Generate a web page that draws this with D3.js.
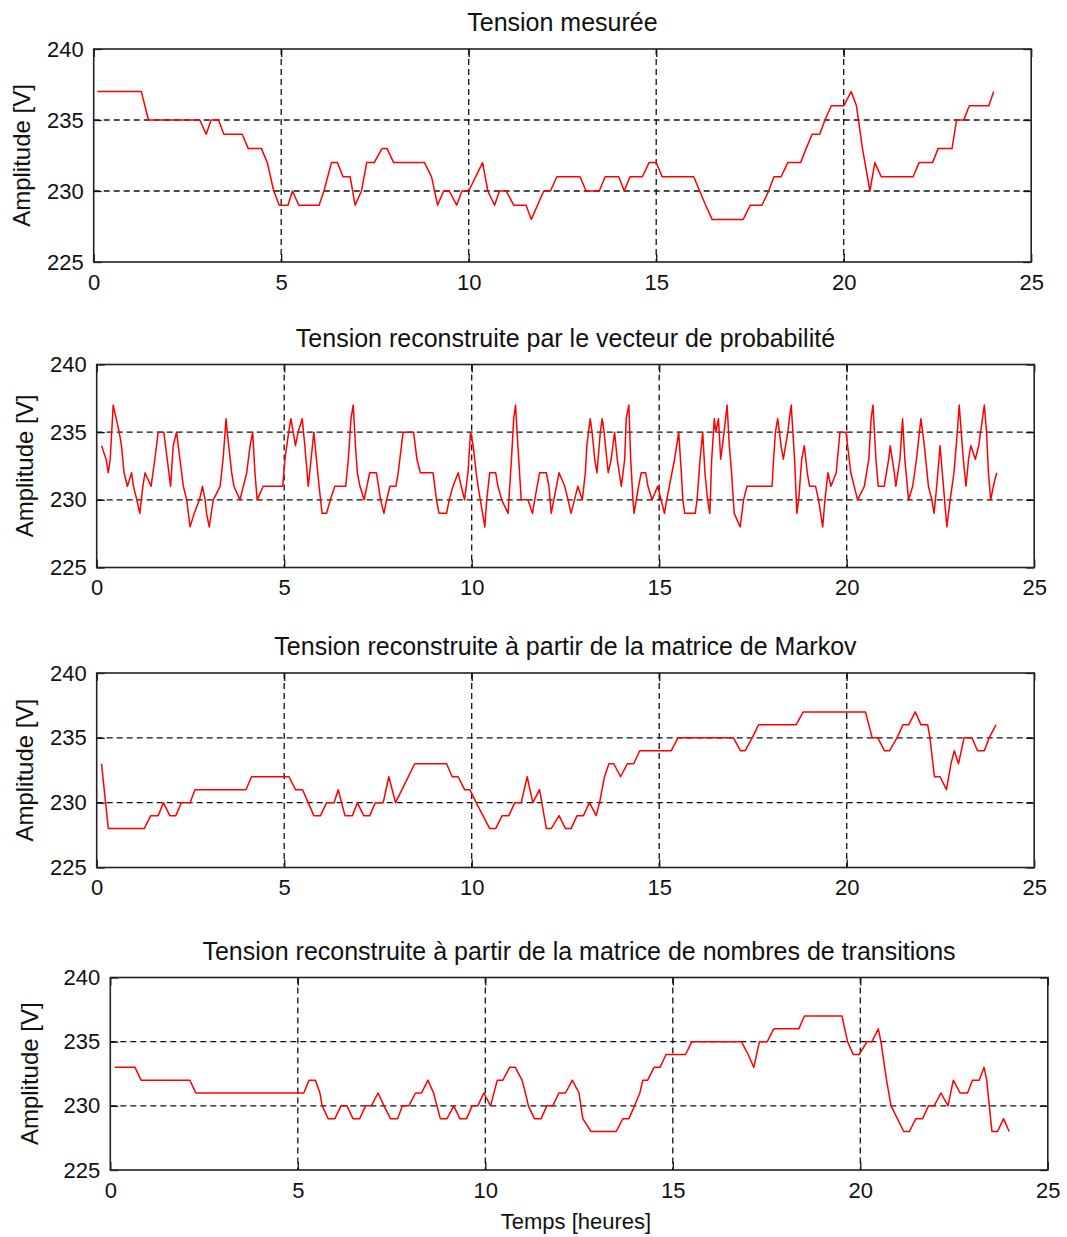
<!DOCTYPE html>
<html>
<head>
<meta charset="utf-8">
<script src="https://cdn.jsdelivr.net/npm/d3@7"></script>
<style>
  body { margin: 0; background: #fff; }
  svg text { font-family: 'Liberation Sans', Arial, sans-serif; fill: #111; }
</style>
</head>
<body>
<svg id="chart" width="1067" height="1237"></svg>
<script>
// ticks shared by all four panels
const xTicks = [0, 5, 10, 15, 20, 25];
const yTicks = [225, 230, 235, 240];

// [hour, volts] breakpoints
const mesuree = [[0.1,237],[1.27,237],[1.46,235],[2.83,235],[3.0,234],[3.13,235],[3.33,235],[3.47,234],[3.96,234],[4.12,233],[4.47,233],[4.63,232],[4.8,230],[4.95,229],[5.18,229],[5.3,230],[5.47,229],[6.01,229],[6.14,230],[6.34,232],[6.5,232],[6.65,231],[6.84,231],[6.97,229],[7.14,230],[7.28,232],[7.48,232],[7.69,233],[7.82,233],[8.0,232],[8.82,232],[9.01,231],[9.17,229],[9.33,230],[9.48,230],[9.68,229],[9.82,230],[10.0,230],[10.37,232],[10.51,230],[10.69,229],[10.82,230],[11.0,230],[11.2,229],[11.53,229],[11.67,228],[12.0,230],[12.18,230],[12.35,231],[12.97,231],[13.13,230],[13.48,230],[13.64,231],[14.0,231],[14.15,230],[14.3,231],[14.63,231],[14.81,232],[15.0,232],[15.16,231],[16.0,231],[16.16,230],[16.32,229],[16.49,228],[17.32,228],[17.51,229],[17.82,229],[18.0,230],[18.14,231],[18.33,231],[18.51,232],[18.85,232],[19.0,233],[19.16,234],[19.36,234],[19.5,235],[19.67,236],[20.0,236],[20.2,237],[20.34,236],[20.5,233],[20.7,230],[20.83,232],[21.0,231],[21.85,231],[22.01,232],[22.37,232],[22.52,233],[22.89,233],[23.01,235],[23.2,235],[23.35,236],[23.87,236],[24.0,237]];

const vecteurProba = [[0.13,234],[0.25,233],[0.31,232],[0.36,233],[0.4,235],[0.44,237],[0.52,236],[0.6,235],[0.66,234],[0.73,232],[0.82,231],[0.93,232],[0.98,231],[1.07,230],[1.15,229],[1.23,231],[1.29,232],[1.45,231],[1.55,233],[1.64,235],[1.79,235],[1.88,233],[1.97,231],[2.04,234],[2.13,235],[2.22,233],[2.31,231],[2.4,230],[2.49,228],[2.6,229],[2.74,230],[2.82,231],[2.89,230],[2.93,229],[3.0,228],[3.11,230],[3.29,231],[3.37,233],[3.45,236],[3.48,235],[3.6,232],[3.66,231],[3.82,230],[4.0,232],[4.09,234],[4.16,235],[4.22,232],[4.28,230],[4.44,231],[4.96,231],[5.02,233],[5.12,235],[5.18,236],[5.24,235],[5.3,234],[5.37,235],[5.48,236],[5.55,234],[5.64,231],[5.68,232],[5.79,235],[5.86,233],[5.93,231],[6.01,229],[6.13,229],[6.23,230],[6.35,231],[6.64,231],[6.71,233],[6.78,236],[6.84,237],[6.9,234],[6.95,232],[7.02,231],[7.13,230],[7.28,232],[7.46,232],[7.57,230],[7.66,229],[7.73,230],[7.82,231],[7.98,231],[8.04,232],[8.17,235],[8.45,235],[8.54,233],[8.63,232],[8.97,232],[9.06,230],[9.13,229],[9.33,229],[9.4,230],[9.5,231],[9.64,232],[9.72,231],[9.81,230],[9.9,232],[9.97,235],[10.04,234],[10.12,232],[10.17,231],[10.29,229],[10.35,228],[10.4,230],[10.48,232],[10.64,232],[10.7,231],[10.8,230],[10.97,229],[11.06,233],[11.12,236],[11.17,237],[11.21,235],[11.32,230],[11.5,230],[11.62,229],[11.68,230],[11.81,232],[11.99,232],[12.06,231],[12.12,229],[12.26,231],[12.33,232],[12.48,231],[12.57,230],[12.65,229],[12.74,230],[12.83,231],[12.95,230],[13.03,232],[13.07,234],[13.16,236],[13.21,235],[13.28,233],[13.34,232],[13.43,235],[13.48,236],[13.53,235],[13.64,232],[13.72,233],[13.81,235],[13.88,233],[13.99,231],[14.08,233],[14.12,236],[14.19,237],[14.24,233],[14.3,230],[14.33,229],[14.39,230],[14.45,231],[14.52,232],[14.64,232],[14.7,231],[14.81,230],[14.96,231],[15.05,230],[15.14,229],[15.2,230],[15.34,232],[15.41,233],[15.52,235],[15.59,232],[15.63,230],[15.68,229],[15.96,229],[16.01,230],[16.09,233],[16.16,235],[16.22,232],[16.29,230],[16.35,229],[16.4,233],[16.47,236],[16.51,235],[16.58,236],[16.64,233],[16.73,235],[16.81,237],[16.87,234],[16.93,232],[17.0,229],[17.16,228],[17.25,230],[17.34,231],[18.01,231],[18.05,233],[18.1,235],[18.16,236],[18.25,234],[18.31,233],[18.43,235],[18.47,236],[18.52,237],[18.61,233],[18.67,229],[18.72,230],[18.8,233],[18.87,234],[18.95,232],[19.01,231],[19.17,231],[19.25,230],[19.36,228],[19.42,230],[19.5,232],[19.58,231],[19.72,232],[19.82,235],[19.98,235],[20.11,232],[20.29,230],[20.47,231],[20.59,233],[20.65,236],[20.7,237],[20.78,233],[20.84,231],[21.0,231],[21.12,233],[21.16,234],[21.27,232],[21.31,231],[21.42,233],[21.49,236],[21.55,233],[21.65,230],[21.76,231],[21.86,233],[21.98,236],[22.07,234],[22.18,231],[22.27,230],[22.33,229],[22.4,231],[22.49,234],[22.55,232],[22.64,229],[22.67,228],[22.76,230],[22.86,232],[22.95,235],[23.0,237],[23.11,233],[23.18,231],[23.25,233],[23.31,234],[23.43,233],[23.52,234],[23.62,236],[23.67,237],[23.73,235],[23.78,232],[23.84,230],[23.91,231],[24.0,232]];

const markov = [[0.13,233],[0.2,231],[0.31,228],[1.27,228],[1.44,229],[1.64,229],[1.78,230],[1.95,229],[2.11,229],[2.26,230],[2.49,230],[2.62,231],[3.98,231],[4.13,232],[5.13,232],[5.3,231],[5.49,231],[5.64,230],[5.79,229],[5.97,229],[6.13,230],[6.33,230],[6.44,231],[6.62,229],[6.82,229],[6.95,230],[7.12,229],[7.28,229],[7.43,230],[7.64,230],[7.79,232],[7.97,230],[8.48,233],[9.33,233],[9.48,232],[9.64,232],[9.81,231],[9.95,231],[10.12,230],[10.3,229],[10.48,228],[10.64,228],[10.81,229],[10.99,229],[11.15,230],[11.32,230],[11.48,232],[11.63,230],[11.81,231],[11.99,228],[12.12,228],[12.33,229],[12.5,228],[12.65,228],[12.81,229],[12.98,229],[13.14,230],[13.32,229],[13.41,230],[13.54,232],[13.66,233],[13.79,233],[13.97,232],[14.15,233],[14.32,233],[14.48,234],[15.32,234],[15.5,235],[16.98,235],[17.17,234],[17.29,234],[17.48,235],[17.65,236],[18.65,236],[18.84,237],[20.5,237],[20.68,235],[20.83,235],[21.01,234],[21.14,234],[21.34,235],[21.5,236],[21.65,236],[21.83,237],[21.98,236],[22.16,236],[22.22,235],[22.34,232],[22.49,232],[22.66,231],[22.78,233],[22.87,234],[22.98,233],[23.13,235],[23.34,235],[23.49,234],[23.67,234],[23.8,235],[23.98,236]];

const transitions = [[0.12,233],[0.66,233],[0.82,232],[2.12,232],[2.28,231],[5.16,231],[5.3,232],[5.47,232],[5.59,231],[5.65,230],[5.81,229],[5.99,229],[6.15,230],[6.31,230],[6.47,229],[6.65,229],[6.81,230],[6.96,230],[7.14,231],[7.3,230],[7.47,229],[7.66,229],[7.79,230],[7.96,230],[8.14,231],[8.3,231],[8.47,232],[8.62,231],[8.8,229],[8.98,229],[9.16,230],[9.32,229],[9.5,229],[9.65,230],[9.8,230],[9.96,231],[10.14,230],[10.32,232],[10.47,232],[10.65,233],[10.8,233],[10.98,232],[11.07,231],[11.15,230],[11.31,229],[11.49,229],[11.64,230],[11.8,230],[11.96,231],[12.14,231],[12.32,232],[12.5,231],[12.6,229],[12.82,228],[13.49,228],[13.67,229],[13.83,229],[13.98,230],[14.12,231],[14.2,232],[14.33,232],[14.5,233],[14.66,233],[14.82,234],[15.34,234],[15.51,235],[16.83,235],[17.01,234],[17.16,233],[17.31,235],[17.52,235],[17.69,236],[18.36,236],[18.51,237],[19.51,237],[19.66,235],[19.81,234],[19.97,234],[20.18,235],[20.31,235],[20.48,236],[20.55,235],[20.7,232],[20.82,230],[21.16,228],[21.31,228],[21.48,229],[21.66,229],[21.82,230],[21.97,230],[22.15,231],[22.34,230],[22.48,232],[22.66,231],[22.86,231],[22.99,232],[23.17,232],[23.3,233],[23.37,232],[23.44,230],[23.51,228],[23.66,228],[23.82,229],[23.97,228]];

const titles = [
  'Tension mesurée',
  'Tension reconstruite par le vecteur de probabilité',
  'Tension reconstruite à partir de la matrice de Markov',
  'Tension reconstruite à partir de la matrice de nombres de transitions'
];
const yLabel = 'Amplitude [V]';
const xLabel = 'Temps [heures]';

// layout of the 4 subplots (pixel boxes measured on the reference)
const boxes = [
  { left: 93.7,  top: 49,    bottom: 262,   ylabX: 22 },
  { left: 96.7,  top: 364.5, bottom: 567.5, ylabX: 25 },
  { left: 96.7,  top: 673,   bottom: 867.5, ylabX: 25 },
  { left: 110.3, top: 977.5, bottom: 1170,  ylabX: 30 }
];
const plotW = 937.5;
const series = [mesuree, vecteurProba, markov, transitions];

const svg = d3.select('#chart');
svg.append('rect').attr('width', 1067).attr('height', 1237).attr('fill', '#fff');

series.forEach((data, i) => {
  const b = boxes[i];
  const x = d3.scaleLinear().domain([0, 25]).range([b.left, b.left + plotW]);
  const y = d3.scaleLinear().domain([225, 240]).range([b.bottom, b.top]);
  const g = svg.append('g');

  // dashed grid
  g.selectAll('line.gx')
    .data(xTicks.slice(1, -1))
    .enter().append('line')
      .attr('x1', d => x(d)).attr('x2', d => x(d))
      .attr('y1', b.top).attr('y2', b.bottom)
      .attr('stroke', '#111').attr('stroke-width', 1.3)
      .attr('stroke-dasharray', '6,4');
  g.selectAll('line.gy')
    .data(yTicks.slice(1, -1))
    .enter().append('line')
      .attr('x1', b.left).attr('x2', b.left + plotW)
      .attr('y1', d => y(d)).attr('y2', d => y(d))
      .attr('stroke', '#111').attr('stroke-width', 1.3)
      .attr('stroke-dasharray', '6,4');

  // axes, ticks pointing inward like matlab
  const fontTick = '22px';
  const bottomAx = g.append('g').attr('transform', `translate(0,${b.bottom})`)
    .call(d3.axisBottom(x).tickValues(xTicks).tickSizeInner(-8).tickSizeOuter(0).tickPadding(12));
  const leftAx = g.append('g').attr('transform', `translate(${b.left},0)`)
    .call(d3.axisLeft(y).tickValues(yTicks).tickSizeInner(-8).tickSizeOuter(0).tickPadding(10));
  g.append('g').attr('transform', `translate(0,${b.top})`)
    .call(d3.axisTop(x).tickValues(xTicks).tickSizeInner(-8).tickSizeOuter(0).tickFormat(''));
  g.append('g').attr('transform', `translate(${b.left + plotW},0)`)
    .call(d3.axisRight(y).tickValues(yTicks).tickSizeInner(-8).tickSizeOuter(0).tickFormat(''));
  g.selectAll('.domain').remove();
  g.selectAll('.tick line').attr('stroke', '#111').attr('stroke-width', 1.3);
  [bottomAx, leftAx].forEach(a => a.selectAll('text')
    .attr('font-size', fontTick)
    .attr('font-family', "'Liberation Sans', Arial, sans-serif")
    .attr('fill', '#111'));

  // box
  g.append('rect')
    .attr('x', b.left).attr('y', b.top)
    .attr('width', plotW).attr('height', b.bottom - b.top)
    .attr('fill', 'none').attr('stroke', '#222').attr('stroke-width', 1.6);

  // the curve
  const line = d3.line().x(d => x(d[0])).y(d => y(d[1]));
  g.append('path')
    .datum(data)
    .attr('d', line)
    .attr('fill', 'none')
    .attr('stroke', '#ff0000')
    .attr('stroke-width', 1.5)
    .attr('stroke-linejoin', 'round');

  // title + y label
  g.append('text')
    .attr('x', b.left + plotW / 2)
    .attr('y', b.top - 18)
    .attr('text-anchor', 'middle')
    .attr('font-size', '25px')
    .text(titles[i]);

  g.append('text')
    .attr('transform', `translate(${b.ylabX},${(b.top + b.bottom) / 2}) rotate(-90)`)
    .attr('text-anchor', 'middle')
    .attr('dy', '0.35em')
    .attr('font-size', '24px')
    .text(yLabel);

  if (i === series.length - 1) {
    svg.append('text')
      .attr('x', 576)
      .attr('y', 1229)
      .attr('text-anchor', 'middle')
      .attr('font-size', '22px')
      .text(xLabel);
  }
});
</script>
</body>
</html>
